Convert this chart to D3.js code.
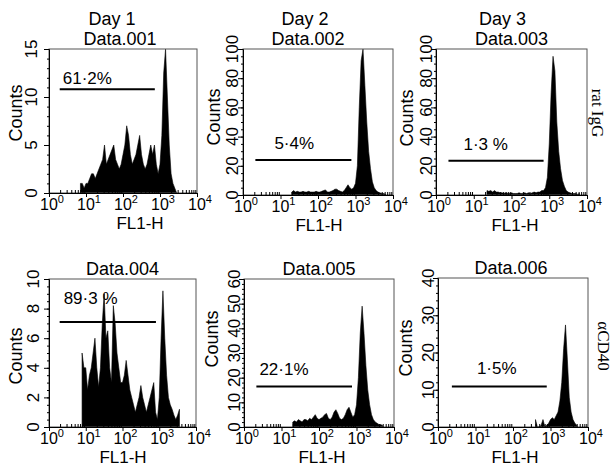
<!DOCTYPE html>
<html>
<head>
<meta charset="utf-8">
<script src="https://cdn.jsdelivr.net/npm/d3@7"></script>
<style>
  body { margin: 0; background: #fff; }
  text { font-family: "Liberation Sans", Arial, sans-serif; fill: #000; }
</style>
</head>
<body>
<div id="wrapper"></div>
<script>
// titles and labels
const dayTitles = ["Day 1", "Day 2", "Day 3"]
const dataNames = ["Data.001", "Data.002", "Data.003", "Data.004", "Data.005", "Data.006"]
const rowLabels = ["rat IgG", "\u03b1CD40"]
const gateTexts = ["61\u00b72%", "5\u00b74%", "1\u00b73 %", "89\u00b73 %", "22\u00b71%", "1\u00b75%"]

// gate markers: start / end in decades, and height in counts
const gateFrom = [0.29, 0.33, 0.33, 0.29, 0.33, 0.37]
const gateTo = [2.86, 2.89, 2.85, 2.91, 2.88, 2.90]
const gateLevel = [10.8, 24, 23.5, 7.1, 16.4, 10.9]

// y axes
const yMax = [15, 100, 100, 10, 60, 40]
const yMajor = [5, 20, 20, 2, 10, 10]
const yMinor = [1, 5, 5, 0.5, 2, 2]

// x axis (decades)
const decades = [0, 1, 2, 3, 4]

// histograms: first bin (decade) and counts every 0.05 decade
const binStep = 0.05
const binStart = [0.85, 1.30, 1.35, 0.90, 1.30, 2.60]
const counts001 = [1,1,0.5,1,1,1.5,2,2,1.5,2,2.5,3,3.5,5,3,3.5,4,4.5,5,3.5,3,2.5,3,4,5,7,6,4,3,3.5,4,5,6,4,3,2.5,3,4,5,4,5,3,2,3,6,12.5,15,10,5,2,1,0.5,0]
const counts002 = [2,3,2,2.5,2,2,2.5,2,2,2.5,2,2,2,2.5,2,2,2.5,3,3.5,2,2,2.5,3,4,4,3,2.5,2,3,5,7,5,4,5,8,20,60,92,100,75,50,30,18,9,5,3,2,1.5,1,1,0.5]
const counts003 = [3,2.5,3,2,3,2,2,1.5,1.5,1,1.5,1,1,1.5,1,1,1,1.5,1,1,1.5,1,1.5,1,1.5,2,1.5,2,2,3,3,5,12,35,70,95,85,50,30,18,10,6,3,2,1.5,1,1,1,0.5,1]
const counts004 = [5,4,4,2.5,3.5,4,5,6,4,2.7,4,7,9,6,6.5,4,3,8.2,7,5,4,3,3,3.5,4.5,3.5,2.5,2,1.5,1,1.5,2,2.8,2,1.5,1,1.5,2,2.5,3,1,0.5,2,6,9.2,6,3.5,2,1.5,1.2,0.8,0.5,0.8,1.2]
const counts005 = [2,2.5,2,3,2.5,2,3,3,2.5,3.5,3,4,5,3.5,3,3.5,4,5,5.5,3.5,3,4,6,7,5.5,3.5,3,3.5,5,7,8,6,4,5,9,20,38,49,38,25,15,9,5,3,2,1.5,1,1,0.5]
const counts006 = [2,0,0,0.5,2,0,0.5,1,2,2.5,2,3,4,7,12,21,27.4,18,8,4,2,1,0.5]
const allCounts = [counts001, counts002, counts003, counts004, counts005, counts006]

// panel layout (pixels)
const frames = [
  {x0: 49, x1: 197, y0: 49, y1: 193},
  {x0: 243, x1: 393, y0: 49, y1: 195},
  {x0: 436, x1: 587, y0: 49, y1: 195},
  {x0: 49, x1: 196, y0: 279, y1: 427},
  {x0: 244, x1: 394, y0: 279, y1: 427},
  {x0: 438, x1: 588, y0: 278, y1: 427}
]
const yLabGap = [12, 5, 4, 10, 4, 4]
const countsGap = [27, 23, 23, 27, 26, 26]
const countsY = [113, 117, 118, 356, 339, 348]
const fl1X = [140, 319, 515, 123, 322, 515]
const titleShift = [-3, -10, 0, 0, 0, -2]
const dayShift = [-11, -13, -9]
const gateTextDx = [3, 19, 15, 4, 3, 25]
const gateTextDy = [-5, -11, -11, -18, -12, -12]

const width = 615
const height = 468

const svg = d3.select("#wrapper")
  .append("svg")
  .attr("width", width)
  .attr("height", height)

frames.forEach((f, i) => {
  const xScale = d3.scaleLog().domain([1, 1e4]).range([f.x0, f.x1])
  const yScale = d3.scaleLinear().domain([0, yMax[i]]).range([f.y1, f.y0])
  const cx = (f.x0 + f.x1) / 2
  const g = svg.append("g")

  // histogram
  const bins = allCounts[i].map((c, k) => ({e: binStart[i] + k * binStep, c: c}))
  const area = d3.area()
    .x(d => xScale(Math.pow(10, d.e)))
    .y0(yScale(0))
    .y1(d => yScale(d.c))
  g.append("path")
    .attr("d", area(bins))
    .attr("fill", "#000")
    .attr("stroke", "#000")
    .attr("stroke-width", 0.6)

  // frame
  g.append("rect")
    .attr("x", f.x0)
    .attr("y", f.y0)
    .attr("width", f.x1 - f.x0)
    .attr("height", f.y1 - f.y0)
    .attr("fill", "none")
    .attr("stroke", "#555")
    .attr("stroke-width", 1)

  // y axis
  const yMajorTicks = d3.range(0, yMax[i] + 1e-9, yMajor[i])
  const yMinorTicks = d3.range(0, yMax[i] + 1e-9, yMinor[i])
  g.append("g")
    .attr("transform", `translate(${f.x0},0)`)
    .call(d3.axisLeft(yScale).tickValues(yMinorTicks).tickSize(2).tickSizeOuter(0).tickFormat(""))
  g.append("g")
    .attr("transform", `translate(${f.x0},0)`)
    .call(d3.axisLeft(yScale).tickValues(yMajorTicks).tickSize(5).tickSizeOuter(0).tickFormat(""))
  g.selectAll(".ylab")
    .data(yMajorTicks)
    .enter()
    .append("text")
    .attr("transform", d => `translate(${f.x0 - yLabGap[i]},${yScale(d)}) rotate(-90)`)
    .attr("text-anchor", "middle")
    .attr("font-size", "17px")
    .text(d => d)

  // x axis
  const minorVals = []
  decades.slice(0, -1).forEach(p => d3.range(2, 10).forEach(k => minorVals.push(k * Math.pow(10, p))))
  g.append("g")
    .attr("transform", `translate(0,${f.y1})`)
    .call(d3.axisBottom(xScale).tickValues(minorVals).tickSize(-3).tickSizeOuter(0).tickFormat(""))
  g.append("g")
    .attr("transform", `translate(0,${f.y1})`)
    .call(d3.axisBottom(xScale).tickValues(decades.map(p => Math.pow(10, p))).tickSize(4).tickSizeOuter(0).tickFormat(""))
  const xl = g.selectAll(".xlab")
    .data(decades)
    .enter()
    .append("text")
    .attr("x", d => xScale(Math.pow(10, d)) + 3)
    .attr("y", f.y1 + 17)
    .attr("text-anchor", "middle")
    .attr("font-size", "16px")
  xl.append("tspan").text("10")
  xl.append("tspan").attr("dy", -7).attr("font-size", "11px").text(d => d)

  g.append("text")
    .attr("x", fl1X[i])
    .attr("y", f.y1 + 36)
    .attr("text-anchor", "middle")
    .attr("font-size", "17px")
    .text("FL1-H")

  g.append("text")
    .attr("transform", `translate(${f.x0 - countsGap[i]},${countsY[i]}) rotate(-90)`)
    .attr("text-anchor", "middle")
    .attr("font-size", "18px")
    .text("Counts")

  // titles
  g.append("text")
    .attr("x", cx + titleShift[i])
    .attr("y", f.y0 - 4)
    .attr("text-anchor", "middle")
    .attr("font-size", "18px")
    .text(dataNames[i])
  if (i < 3) {
    g.append("text")
      .attr("x", cx + dayShift[i])
      .attr("y", f.y0 - 24)
      .attr("text-anchor", "middle")
      .attr("font-size", "18px")
      .text(dayTitles[i])
  }

  // gate marker
  const gx = xScale(Math.pow(10, gateFrom[i]))
  const gy = yScale(gateLevel[i])
  g.append("line")
    .attr("x1", gx)
    .attr("x2", xScale(Math.pow(10, gateTo[i])))
    .attr("y1", gy)
    .attr("y2", gy)
    .attr("stroke", "#000")
    .attr("stroke-width", 2)
  g.append("text")
    .attr("x", gx + gateTextDx[i])
    .attr("y", gy + gateTextDy[i])
    .attr("font-size", "17px")
    .text(gateTexts[i])
})

// row labels on the right
const rowX = [592, 598]
const rowY = [113, 346]
svg.selectAll(".rowlab")
  .data(rowLabels)
  .enter()
  .append("text")
  .attr("transform", (d, i) => `translate(${rowX[i]},${rowY[i]}) rotate(90)`)
  .attr("text-anchor", "middle")
  .attr("font-size", "17px")
  .style("font-family", "'Liberation Serif', 'Times New Roman', serif")
  .text(d => d)
</script>
</body>
</html>
